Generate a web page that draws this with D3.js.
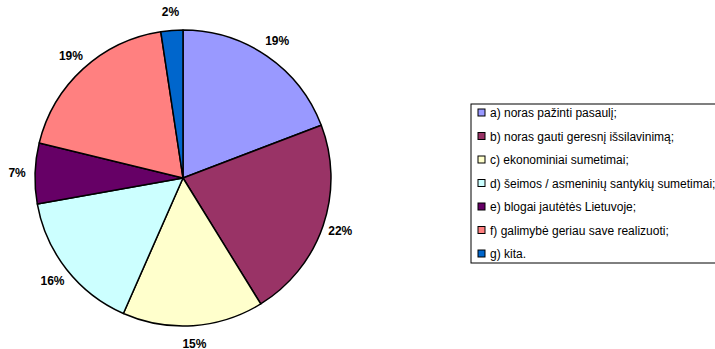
<!DOCTYPE html>
<html>
<head>
<meta charset="utf-8">
<script src="https://cdn.jsdelivr.net/npm/d3@7"></script>
<style>
  body { margin: 0; background: #fff; }
  svg { display: block; }
</style>
</head>
<body>
<div id="chart"></div>
<script>
var categories = [
    "a) noras pažinti pasaulį;",
    "b) noras gauti geresnį išsilavinimą;",
    "c) ekonominiai sumetimai;",
    "d) šeimos / asmeninių santykių sumetimai;",
    "e) blogai jautėtės Lietuvoje;",
    "f) galimybė geriau save realizuoti;",
    "g) kita."
];
var values = [19.2, 22.0, 15.4, 15.6, 6.6, 18.8, 2.4];
var colors = ["#9999FF", "#993366", "#FFFFCC", "#CCFFFF", "#660066", "#FF8080", "#0066CC"];

var width = 715, height = 349;
var cx = 183, cy = 178, radius = 148;

var svg = d3.select("#chart").append("svg")
    .attr("width", width)
    .attr("height", height);

var pie = d3.pie().sort(null).value(function(d) { return d; });
var arcs = pie(values);
var arc = d3.arc().innerRadius(0).outerRadius(radius);
var labelArc = d3.arc().innerRadius(166).outerRadius(166);

var g = svg.append("g").attr("transform", "translate(" + cx + "," + cy + ")");

g.selectAll("path.slice")
    .data(arcs)
    .enter().append("path")
    .attr("class", "slice")
    .attr("d", arc)
    .attr("fill", function(d, i) { return colors[i]; })
    .attr("stroke", "#000")
    .attr("stroke-width", 1.5)
    .attr("stroke-linejoin", "round");

// percent labels
g.selectAll("text.pct")
    .data(arcs)
    .enter().append("text")
    .attr("class", "pct")
    .attr("transform", function(d) { return "translate(" + labelArc.centroid(d) + ")"; })
    .attr("text-anchor", "middle")
    .attr("dy", "0.33em")
    .attr("style", "font-size: 12px; font-weight: bold; font-family: 'Liberation Sans', Arial, sans-serif")
    .attr("fill", "#000")
    .text(function(d) { return Math.round(d.value) + "%"; });

// legend
var legX = 471, legY = 104, rowH = 23.5;
var legend = svg.append("g");
legend.append("rect")
    .attr("x", legX)
    .attr("y", legY)
    .attr("width", 260)
    .attr("height", 159)
    .attr("fill", "#fff")
    .attr("stroke", "#000")
    .attr("stroke-width", 1);

var rows = legend.selectAll("g.row")
    .data(categories)
    .enter().append("g")
    .attr("class", "row")
    .attr("transform", function(d, i) { return "translate(" + legX + "," + (legY + 9 + i * rowH) + ")"; });

rows.append("rect")
    .attr("x", 7)
    .attr("y", -4)
    .attr("width", 7)
    .attr("height", 7)
    .attr("fill", function(d, i) { return colors[i]; })
    .attr("stroke", "#000")
    .attr("stroke-width", 1);

rows.append("text")
    .attr("x", 19)
    .attr("y", 0)
    .attr("dy", "0.35em")
    .attr("style", "font-size: 12px; font-family: 'Liberation Sans', Arial, sans-serif")
    .attr("fill", "#000")
    .text(function(d) { return d; });
</script>
</body>
</html>
